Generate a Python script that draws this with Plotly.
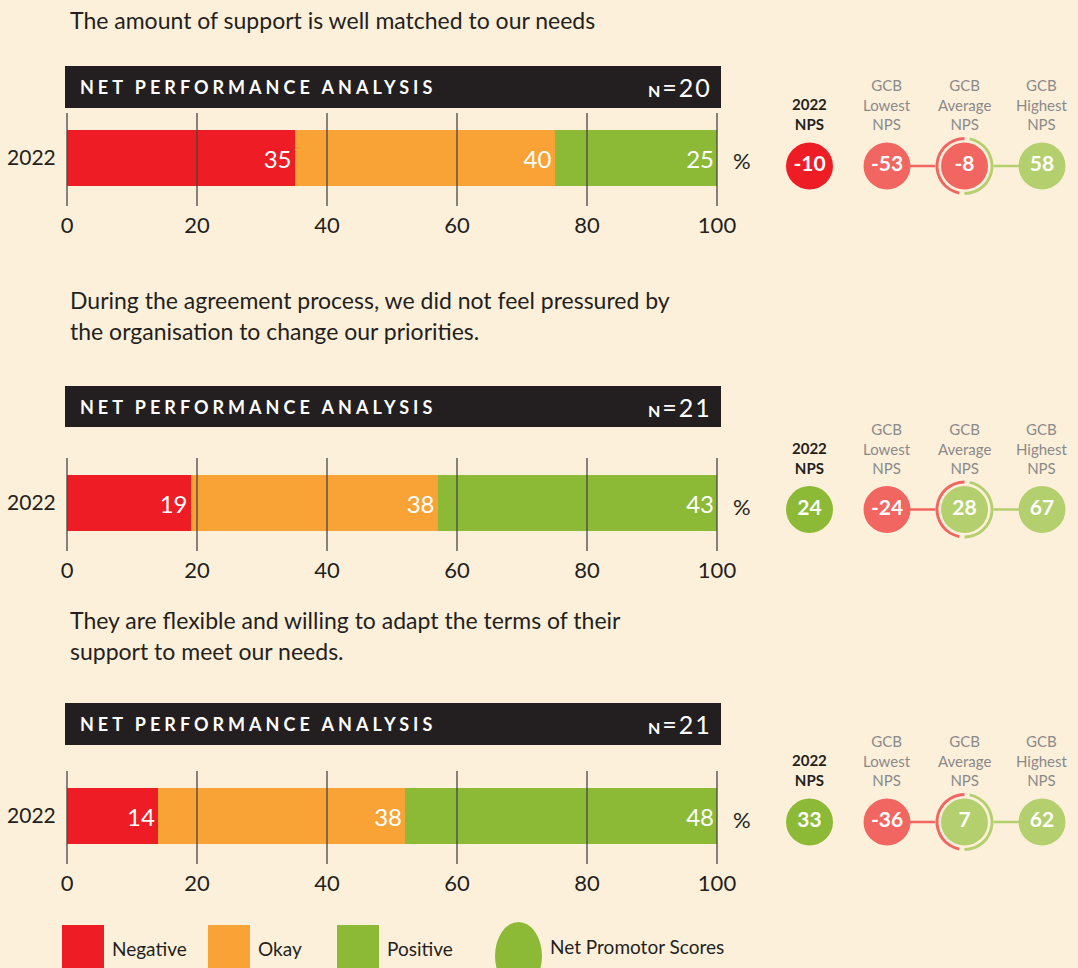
import plotly.graph_objects as go

# ---------------- data ----------------
QUESTIONS = [
    ["The amount of support is well matched to our needs"],
    ["During the agreement process, we did not feel pressured by",
     "the organisation to change our priorities."],
    ["They are flexible and willing to adapt the terms of their",
     "support to meet our needs."],
]
YEAR = "2022"
N_RESP = [20, 21, 21]
NEGATIVE = [35, 19, 14]
OKAY = [40, 38, 38]
POSITIVE = [25, 43, 48]
NPS_2022 = [-10, 24, 33]
GCB_LOWEST = [-53, -24, -36]
GCB_AVERAGE = [-8, 28, 7]
GCB_HIGHEST = [58, 67, 62]
X_TICKS = [0, 20, 40, 60, 80, 100]
NPS_LABELS = ["<b>2022<br>NPS</b>", "GCB<br>Lowest<br>NPS", "GCB<br>Average<br>NPS", "GCB<br>Highest<br>NPS"]
LEGEND_LABELS = ["Negative", "Okay", "Positive", "Net Promotor Scores"]

# ---------------- style / layout ----------------
W, H = 1078, 968
BG = "#FDF0DA"
DARK = "#231F20"
GRAY = "#8A8A8A"
RED = "#EE1C25"
ORANGE = "#F9A336"
GREEN = "#8CB936"
LRED = "#F26662"
LGREEN = "#B4CF6E"
FONT = "Lato"

Q_Y = [[20], [300, 331], [620, 651]]
HEAD_Y = [(66, 108), (386, 427), (703, 745)]
BAR_Y = [(130, 186), (475, 531), (788, 844)]
NPS_CY = [166, 509.5, 822]
X0_PX, X100_PX = 67, 717
NPS_X0_PX, NPS_COL_PX = 809.5, 77.5
NPS_DOM = (772, 1078)
CIRCLE_D = 47
RING_D = 58
ANN_PAD = 2  # plotly annotation inner padding


def fx(px):
    return px / W


def fy(py):
    return 1 - py / H


fig = go.Figure()
layout = dict(
    template="none",
    width=W, height=H, autosize=False,
    margin=dict(l=0, r=0, t=0, b=0, pad=0, autoexpand=False),
    paper_bgcolor=BG, plot_bgcolor=BG,
    showlegend=False,
    font=dict(family=FONT, color=DARK),
    barmode="stack",
)
shapes = []
annotations = []

ppu = (X100_PX - X0_PX) / 100.0
xdom = [fx(X0_PX - 0.5 * ppu), fx(X100_PX + 0.5 * ppu)]

for i in range(3):
    bi = i + 1
    ni = i + 4
    xa = "x" if bi == 1 else f"x{bi}"
    ya = "y" if bi == 1 else f"y{bi}"
    btop, bbot = BAR_Y[i]
    dtop, dbot = btop - 17, bbot + 20
    bh = bbot - btop
    bc = (btop + bbot) / 2
    yr = [-(dbot - bc) / bh, (bc - dtop) / bh]

    for vals, col in ((NEGATIVE, RED), (OKAY, ORANGE), (POSITIVE, GREEN)):
        fig.add_trace(go.Bar(
            x=[vals[i]], y=[YEAR], orientation="h", width=1,
            marker=dict(color=col, line=dict(width=0)),
            text=[str(vals[i])], textposition="inside", insidetextanchor="end",
            textangle=0, constraintext="none",
            textfont=dict(color="white", size=24, family=FONT),
            hoverinfo="skip", xaxis=xa, yaxis=ya,
        ))

    layout[f"xaxis{'' if bi == 1 else bi}"] = dict(
        domain=xdom, range=[-0.5, 100.5], anchor=ya, automargin=False,
        tickvals=X_TICKS, ticktext=[str(t) for t in X_TICKS],
        showgrid=False, zeroline=False, showline=False, ticks="",
        tickfont=dict(size=22, color=DARK, family=FONT),
        ticklabelstandoff=4, fixedrange=True,
    )
    layout[f"yaxis{'' if bi == 1 else bi}"] = dict(
        domain=[fy(dbot), fy(dtop)], range=yr, anchor=xa, automargin=False,
        type="category", showgrid=False, zeroline=False, showline=False,
        ticks="", tickfont=dict(size=21, color=DARK, family=FONT),
        ticklabelstandoff=7, fixedrange=True,
    )
    for t in X_TICKS:
        shapes.append(dict(type="line", xref=xa, yref=f"{ya} domain",
                           x0=t, x1=t, y0=0, y1=1, layer="above",
                           line=dict(color="#4A4546", width=1.3)))

    # percent sign
    annotations.append(dict(x=fx(742), y=fy(bc + 3), xref="paper", yref="paper",
                            text="%", showarrow=False, xanchor="center", yanchor="middle",
                            font=dict(size=22, color=DARK, family=FONT)))

    # question text
    for line, ly in zip(QUESTIONS[i], Q_Y[i]):
        annotations.append(dict(x=fx(70 - ANN_PAD), y=fy(ly), xref="paper", yref="paper",
                                text=line, showarrow=False, xanchor="left", yanchor="middle",
                                font=dict(size=23, color=DARK, family=FONT)))

    # header bar
    htop, hbot = HEAD_Y[i]
    shapes.append(dict(type="rect", xref="paper", yref="paper",
                       x0=fx(65), x1=fx(721), y0=fy(hbot), y1=fy(htop),
                       fillcolor=DARK, line=dict(width=0), layer="below"))
    hc = (htop + hbot) / 2
    annotations.append(dict(x=fx(80 - ANN_PAD), y=fy(hc), xref="paper", yref="paper",
                            text='<b><span style="letter-spacing:4px">NET PERFORMANCE ANALYSIS</span></b>',
                            showarrow=False, xanchor="left", yanchor="middle",
                            font=dict(size=18, color="white", family=FONT)))
    annotations.append(dict(x=fx(712 + ANN_PAD), y=fy(hc), xref="paper", yref="paper",
                            text=f'<span style="letter-spacing:2px"><b><span style="font-size:16px">N</span></b>={N_RESP[i]}</span>',
                            showarrow=False, xanchor="right", yanchor="middle",
                            font=dict(size=25, color="white", family=FONT)))

    # ---------------- NPS panel ----------------
    nxa, nya = f"x{ni}", f"y{ni}"
    cy = NPS_CY[i]
    layout[f"xaxis{ni}"] = dict(
        domain=[fx(NPS_DOM[0]), fx(NPS_DOM[1])],
        range=[-(NPS_X0_PX - NPS_DOM[0]) / NPS_COL_PX, 3 + (NPS_DOM[1] - (NPS_X0_PX + 3 * NPS_COL_PX)) / NPS_COL_PX],
        anchor=nya, visible=False, fixedrange=True, automargin=False,
    )
    layout[f"yaxis{ni}"] = dict(
        domain=[fy(cy + 40), fy(cy - 40)], range=[-40, 40],
        anchor=nxa, visible=False, fixedrange=True, automargin=False,
    )
    vals = [NPS_2022[i], GCB_LOWEST[i], GCB_AVERAGE[i], GCB_HIGHEST[i]]
    colors = [(RED if vals[0] < 0 else GREEN)] + [(LRED if v < 0 else LGREEN) for v in vals[1:]]
    gap = (RING_D / 2) / NPS_COL_PX
    fig.add_trace(go.Scatter(x=[1, 2 - gap], y=[0, 0], mode="lines",
                             line=dict(color=LRED, width=2.5), hoverinfo="skip",
                             xaxis=nxa, yaxis=nya))
    fig.add_trace(go.Scatter(x=[2 + gap, 3], y=[0, 0], mode="lines",
                             line=dict(color=LGREEN, width=2.5), hoverinfo="skip",
                             xaxis=nxa, yaxis=nya))
    fig.add_trace(go.Scatter(
        x=[0, 1, 2, 3], y=[0, 0, 0, 0], mode="markers+text",
        marker=dict(size=CIRCLE_D, color=colors, line=dict(width=0)),
        text=[str(v) for v in vals], textposition="middle center",
        textfont=dict(size=21, color="white", family=FONT, weight="bold"),
        hoverinfo="skip", cliponaxis=False, xaxis=nxa, yaxis=nya,
    ))
    # ring around average
    rcx = NPS_X0_PX + 2 * NPS_COL_PX
    r = RING_D / 2
    fig.add_trace(go.Pie(
        values=[1.5, 47, 3, 47, 1.5],
        marker=dict(colors=["rgba(0,0,0,0)", LRED, "rgba(0,0,0,0)", LGREEN, "rgba(0,0,0,0)"],
                    line=dict(width=0)),
        sort=False, direction="counterclockwise", rotation=0, hole=0.9,
        textinfo="none", hoverinfo="skip", showlegend=False, automargin=False,
        domain=dict(x=[fx(rcx - r), fx(rcx + r)], y=[fy(cy + r), fy(cy - r)]),
    ))
    # column labels
    for k, lab in enumerate(NPS_LABELS):
        annotations.append(dict(
            x=k, y=fy(cy - 31), xref=nxa, yref="paper", text=lab, showarrow=False,
            xanchor="center", yanchor="bottom",
            font=dict(size=15, color=(DARK if k == 0 else GRAY), family=FONT),
        ))

# ---------------- legend ----------------
LEG = [(62, 104, RED, 112), (208, 250, ORANGE, 258), (337, 379, GREEN, 387)]
for (x0, x1, col, tx), lab in zip(LEG, LEGEND_LABELS[:3]):
    shapes.append(dict(type="rect", xref="paper", yref="paper",
                       x0=fx(x0), x1=fx(x1), y0=fy(975), y1=fy(925),
                       fillcolor=col, line=dict(width=0)))
    annotations.append(dict(x=fx(tx - ANN_PAD), y=fy(948), xref="paper", yref="paper", text=lab,
                            showarrow=False, xanchor="left", yanchor="middle",
                            font=dict(size=19, color=DARK, family=FONT)))
shapes.append(dict(type="circle", xref="paper", yref="paper",
                   x0=fx(495), x1=fx(542), y0=fy(990), y1=fy(922),
                   fillcolor=GREEN, line=dict(width=0)))
annotations.append(dict(x=fx(550 - ANN_PAD), y=fy(946), xref="paper", yref="paper", text=LEGEND_LABELS[3],
                        showarrow=False, xanchor="left", yanchor="middle",
                        font=dict(size=19, color=DARK, family=FONT)))

layout["shapes"] = shapes
layout["annotations"] = annotations
fig.update_layout(**layout)
fig.write_html(
    "out.html",
    config={"responsive": False, "displayModeBar": False},
    post_script=(
        "document.body.style.margin='0';document.body.style.overflow='hidden';"
        "document.body.style.background='" + BG + "';"
    ),
)
